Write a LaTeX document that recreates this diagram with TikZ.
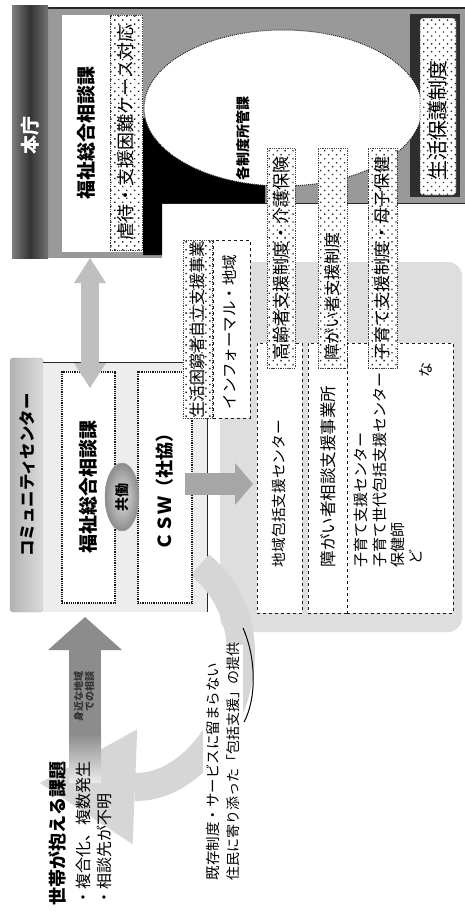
\documentclass[tikz,border=0pt]{standalone}
\usepackage{fontspec}
\setmainfont{Noto Sans CJK JP}
\usetikzlibrary{patterns,patterns.meta,arrows.meta,fit,shapes.geometric}
\newcommand{\fsz}[1]{\fontsize{#1}{#1}\selectfont}
\begin{document}
\begin{tikzpicture}[x=1pt,y=-1pt,
  vt/.style={rotate=90,inner sep=0pt,outer sep=0pt},
  rbox/.style={fit={#1},inner sep=0pt,outer sep=0pt},
  dotbox/.style={fill=white,draw=black!75,densely dotted,line width=0.8pt,
     postaction={pattern={Dots[distance=5.6pt,angle=45,radius=0.95pt]},pattern color=black!85}},
  dashbox/.style={fill=white,draw=black!90,dashed,line width=1pt},
  dotline/.style={fill=white,draw=black!90,densely dotted,line width=1.2pt},
]
\useasboundingbox (0,0) rectangle (465,919);
\fill[white] (0,0) rectangle (465,919);

% light gray region behind local services
\node[rbox={(220,262) (462,632)}, fill=black!13, rounded corners=14pt] (region) {};

% ---------- 本庁 ----------
\fill[black!40] (48,8) rectangle (465,203);
\fill[black!40] (48,8) rectangle (162,258);
\draw[black!85,line width=1.2pt] (48,8) -- (465,8);
\draw[black!85,line width=1pt] (162,203) -- (465,203);
\node[rbox={(12,5) (48,258)}, left color=black!50, right color=black!55, middle color=black!80] (honchobar) {};
\node[vt,font={\fsz{19}\bfseries},text=white] (honcho) at (30,135) {本庁};
\fill[black] (143,118) -- (265,118) -- (265,203) -- (162,203) -- (162,255) -- (143,255) -- cycle;
\fill[black!82] (410,14) rectangle (460,197);
\fill[white] (283,108) ellipse [x radius=139,y radius=78];
\draw[black!85,densely dotted,line width=1pt] (283,108) ellipse [x radius=139,y radius=78];
\node[vt,font={\fsz{14}\bfseries}] (seido) at (243,138) {各制度所管課};

\node[rbox={(62,15) (143,252)}, fill=white] (honbox) {};
\node[vt,font={\fsz{19}\bfseries}] at (86,133) {福祉総合相談課};
\node[rbox={(110,15) (142,250)}, dotbox] (gyaku) {};
\node[vt,font={\fsz{18}}] at (gyaku.center) {虐待・支援困難ケース対応};

\node[rbox={(420,18) (456,195)}, dotbox, rounded corners=3pt] (seiho) {};
\node[vt,font={\fsz{20}}] at (438,120) {生活保護制度};

% ---------- local services ----------
\node[rbox={(257,343) (302,613)}, dashbox] (chiiki) {};
\node[rbox={(308,343) (347,613)}, dashbox] (shogai) {};
\node[rbox={(347,343) (453,613)}, dashbox] (kosodate) {};
\node[vt,anchor=west,font={\fsz{14.7}}] at (279,567) {地域包括支援センター};
\node[vt,anchor=west,font={\fsz{16.5}}] at (328,567) {障がい者相談支援事業所};
\node[vt,anchor=west,font={\fsz{15}}] at (361,567) {子育て支援センター};
\node[vt,anchor=west,font={\fsz{15}}] at (380,567) {子育て世代包括支援センター};
\node[vt,anchor=west,font={\fsz{15}}] at (398,567) {保健師};
\node[vt,anchor=west,font={\fsz{15}}] at (416,564) {ど};
\node[vt,anchor=west,font={\fsz{15}}] at (426,377) {な};

\node[rbox={(267,148) (295,368)}, dotbox] (korei) {};
\node[vt,font={\fsz{17}}] at (korei.center) {高齢者支援制度・介護保険};
\node[rbox={(318,148) (347,368)}, dotbox] (shogaiseido) {};
\node[vt,anchor=west,font={\fsz{16}}] at (332.5,360) {障がい者支援制度};
\node[rbox={(368,148) (397,368)}, dotbox] (kososeido) {};
\node[vt,font={\fsz{17}}] at (kososeido.center) {子育て支援制度・母子保健};

% ---------- community center ----------
\node[rbox={(10,358) (43,612)}, rounded corners=3pt, left color=black!30, right color=black!14, draw=black!30] (cclabel) {};
\node[vt,font={\fsz{16.4}\bfseries}] at (27,475) {コミュニティセンター};
\node[rbox={(43,362) (207,612)}, fill=black!7] (ccframe) {};
\draw[black!85,line width=1pt] (ccframe.north west) -- (ccframe.north east) -- (ccframe.south east);

% curved band arrow
\coordinate (bs) at (200,565);
\coordinate (be) at (40,783);
\draw[black!16,line width=28pt,-{Triangle[width=115pt,length=95pt,line width=0pt]}] (bs) .. controls (290,640) and (215,790) .. (be);

\node[rbox={(62,372) (115,603)}, dotline] (ccwel) {};
\node[vt,font={\fsz{19}\bfseries}] at (88,487) {福祉総合相談課};
\node[rbox={(138,372) (192,603)}, dotline] (csw) {};
\node[vt,font={\fsz{18}\bfseries}] at (165,487) {ＣＳＷ（社協）};
\node[ellipse, minimum width=34pt, minimum height=68pt, inner sep=0pt, inner color=black!12, outer color=black!45, draw=black!40] (kyodo) at (122,497) {};
\node[vt,font={\fsz{14}\bfseries}] at (kyodo.center) {共働};

\node[rbox={(183,240) (212,418)}, dotbox] (konkyu) {};
\node[vt,font={\fsz{16}}] at (konkyu.center) {生活困窮者自立支援事業};
\node[rbox={(213,240) (250,418)}, dashbox] (informal) {};
\node[vt,font={\fsz{15.5}}] at (230,332) {インフォーマル・地域};

% ---------- arrows ----------
\coordinate (aTop) at (90,258);
\coordinate (aBot) at (90,388);
\draw[black!25,line width=18pt,{Triangle[width=32pt,length=25pt,line width=0pt]}-{Triangle[width=32pt,length=25pt,line width=0pt]}] (aTop) -- (aBot);

\coordinate (cswOut) at (185,484);
\coordinate (regIn) at (253,484);
\draw[black!35,line width=22pt,-{Triangle[width=42pt,length=18pt,line width=0pt]}] (cswOut) -- (regIn);

\coordinate (mjBase) at (85,735);
\coordinate (mjTip) at (85,617);
\shade[top color=black!45,bottom color=black!8] (69,734) rectangle (101,782);
\draw[black!45,line width=32pt,-{Triangle[width=74pt,length=33pt,line width=0pt]}] (mjBase) -- (mjTip);
\node[vt,anchor=east,align=right,font={\fsz{10}\bfseries},text=black!80] at (84,671) {身近な地域\\[1pt]での相談};

% ---------- bottom texts ----------
\fill[white] (203,645) rectangle (243,885);
\draw[black,line width=1pt] (243,628) .. controls (257,660) and (256,700) .. (244,722);
\node[vt,anchor=west,font={\fsz{18}\bfseries}] at (58,905) {世帯が抱える課題};
\node[vt,anchor=west,font={\fsz{16}}] at (83,905) {・複合化、複数発生};
\node[vt,anchor=west,font={\fsz{16}}] at (104,905) {・相談先が不明};
\node[vt,anchor=west,font={\fsz{14.5}}] at (213,880) {既存制度・サービスに留まらない};
\node[vt,anchor=west,font={\fsz{14}}] at (233,880) {住民に寄り添った「包括支援」の提供};
\end{tikzpicture}
\end{document}
